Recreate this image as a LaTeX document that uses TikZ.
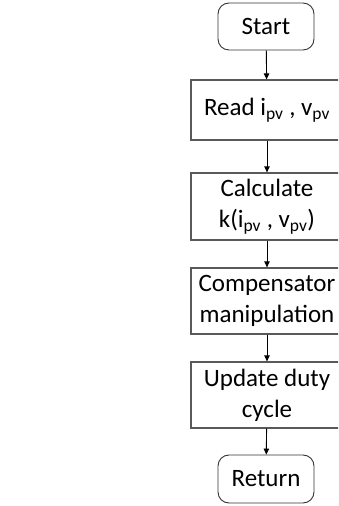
\documentclass[tikz,border=0pt]{standalone}
\usepackage{fontspec}
\setmainfont{Carlito}
\usetikzlibrary{arrows.meta}
\begin{document}
\begin{tikzpicture}[x=1pt,y=1pt,
                    arrow/.style = {line width=0.9pt,-{Triangle[length=6pt,width=5.5pt]}},
                    terminal/.style = {draw=black!80,line width=0.9pt,rounded corners=11pt,minimum width=96pt,inner sep=0pt,align=center},
                    process/.style = {draw=black!65,line width=1.3pt,minimum width=152pt,inner sep=0pt,align=center},
                    font=\fontsize{25}{31}\selectfont]
                    \useasboundingbox (0,0) rectangle (338,506);
                    \clip (0,0) rectangle (338,506);

                    \node [terminal, minimum height=47pt] (start) at (266,479.5) {Start};
                    \node [process, minimum height=60pt] (read) at (267,396) {Read i\textsubscript{pv} , v\textsubscript{pv}};
                    \node [process, minimum height=67pt] (calc) at (267,299.5) {Calculate\\k(i\textsubscript{pv} , v\textsubscript{pv})};
                    \node [process, minimum height=66pt] (comp) at (267,205) {Compensator\\manipulation};
                    \node [process, minimum height=66pt] (duty) at (267,111) {Update duty\\cycle};
                    \node [terminal, minimum height=48pt] (return) at (266,27) {Return};

                    \draw[arrow] (start) -- (read);
                    \draw[arrow] (read) -- (calc);
                    \draw[arrow] (calc) -- (comp);
                    \draw[arrow] (comp) -- (duty);
                    \draw[arrow] (duty) -- (return);
                \end{tikzpicture}
\end{document}
